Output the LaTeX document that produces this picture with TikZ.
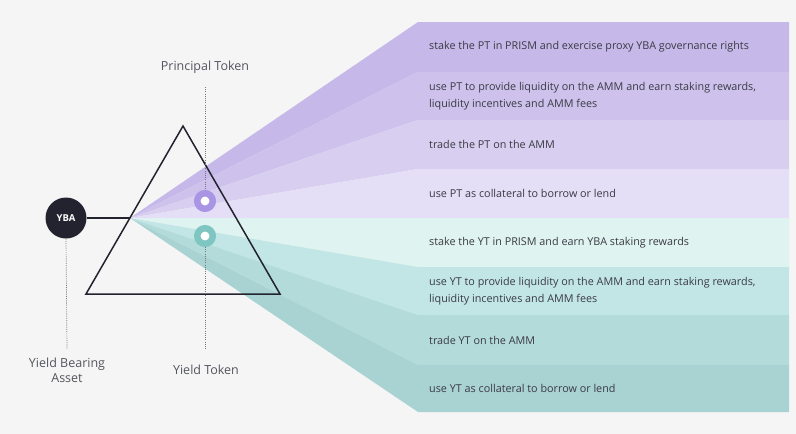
\documentclass[tikz,border=0pt]{standalone}
\usepackage{fontspec}
\setmainfont{Open Sans}
\usetikzlibrary{positioning}

\definecolor{bgcol}{HTML}{F5F5F5}
\definecolor{inkcol}{HTML}{23232F}
\definecolor{labelcol}{HTML}{55555F}
\definecolor{textcol}{HTML}{3A3A44}
\definecolor{ptring}{HTML}{AA94E4}
\definecolor{ytring}{HTML}{7FC6C3}
\definecolor{pa}{HTML}{C6B9E9}
\definecolor{pb}{HTML}{CEC2EC}
\definecolor{pc}{HTML}{D8CFF0}
\definecolor{pd}{HTML}{E4DEF6}
\definecolor{ta}{HTML}{DFF3F0}
\definecolor{tb}{HTML}{C2E6E6}
\definecolor{tc}{HTML}{B3DBDA}
\definecolor{td}{HTML}{A9D2D3}

\tikzset{
  bandtext/.style={anchor=west, align=left, text=textcol, font=\fontsize{10.8}{16.5}\selectfont, inner sep=0pt},
  tokenlabel/.style={text=labelcol, font=\fontsize{12.5}{15}\selectfont, align=center, inner sep=0pt},
  guide/.style={draw=labelcol!80, line width=0.7pt, dash pattern=on 1pt off 1.2pt},
  tokenring/.style={circle, fill=white, line width=6.5pt, minimum size=15.5pt, inner sep=0pt},
}

\begin{document}
\begin{tikzpicture}[x=1pt, y=-1pt]
  \fill[bgcol] (0,0) rectangle (796,434);
  \useasboundingbox (0,0) rectangle (796,434);

  \coordinate (o) at (130,218);
  % fan of uses
  \foreach \top/\bot/\col/\txt [count=\i] in {
      22/72/pa/{stake the PT in PRISM and exercise proxy YBA governance rights},
      72/120/pb/{use PT to provide liquidity on the AMM and earn staking rewards,\\liquidity incentives and AMM fees},
      120/169/pc/{trade the PT on the AMM},
      169/218/pd/{use PT as collateral to borrow or lend},
      218/267/ta/{stake the YT in PRISM and earn YBA staking rewards},
      267/315/tb/{use YT to provide liquidity on the AMM and earn staking rewards,\\liquidity incentives and AMM fees},
      315/365/tc/{trade YT on the AMM},
      365/412/td/{use YT as collateral to borrow or lend}} {
    \fill[\col] (o) -- (418,\top) -- (789,\top) -- (789,\bot) -- (418,\bot) -- cycle;
    \node[bandtext] (use\i) at (429,{(\top+\bot)/2}) {\txt};
  }

  % prism
  \coordinate (apex) at (183,126);
  \coordinate (bl) at (86,294);
  \coordinate (br) at (280,294);
  \draw[inkcol, line width=1.5pt, line join=miter] (apex) -- (br) -- (bl) -- cycle;

  \node[circle, fill=inkcol, minimum size=41pt, inner sep=0pt, text=white,
        font=\fontsize{9.5}{11}\selectfont\bfseries] (yba) at (66,218) {YBA};
  \draw[inkcol, line width=1.5pt] (yba) -- (o);

  \node[tokenring, draw=ptring] (pt) at (205,201) {};
  \node[tokenring, draw=ytring] (yt) at (205,236) {};

  \node[tokenlabel] (ptlabel) at (205,67) {Principal Token};
  \node[tokenlabel] (ytlabel) at (206,370) {Yield Token};
  \node[tokenlabel] (ybalabel) at (67,370) {Yield Bearing\\Asset};

  \coordinate (pttop) at (205,87);
  \coordinate (ytbot) at (205,349);
  \coordinate (ybabot) at (67,349);
  \draw[guide] (pttop) -- (pt.north);
  \draw[guide] (yt.south) -- (ytbot);
  \draw[guide] (yba.south) -- (ybabot);
\end{tikzpicture}
\end{document}
